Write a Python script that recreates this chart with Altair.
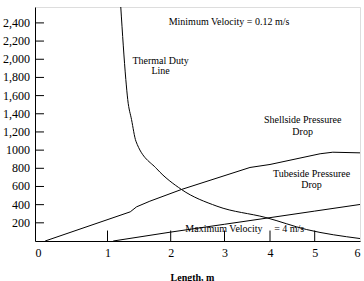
import altair as alt
import pandas as pd

# ---- data ----
thermal_x = [1.21, 1.29, 1.32, 1.38, 1.45, 1.78, 2.20, 2.86, 3.91, 4.82, 6.0]
thermal_y = [2575, 1777, 1557, 1337, 1098, 794, 567, 383, 258, 126, 27]

shell_x = [0.14, 1.36, 1.46, 1.67, 2.20, 3.56, 4.0, 5.12, 5.40, 6.0]
shell_y = [0, 321, 376, 438, 567, 809, 842, 960, 977, 970]

tube_x = [1.09, 2, 3, 4, 5, 6]
tube_y = [0, 98, 184, 257, 329, 402]

x_ticks = [0, 1, 2, 3, 4, 5, 6]
x_inner_ticks = [1, 2, 3, 4, 5]
y_ticks = [200, 400, 600, 800, 1000, 1200, 1400, 1600, 1800, 2000, 2200, 2400]
y_tick_labels = ["200", "400", "600", "800", "1000", "1,200", "1,400",
                 "1,600", "1,800", "2,000", "2,200", "2,400"]

labels = ["Minimum Velocity = 0.12 m/s", "Thermal Duty", "Line",
          "Shellside  Pressuree", "Drop", "Tubeside  Pressuree", "Drop",
          "Maximum Velocity", "= 4 m/s"]
label_x = [3.10, 1.84, 1.84, 4.73, 4.73, 4.93, 4.93, 2.99, 4.43]
label_y = [2411, 1985, 1868, 1336, 1201, 739, 614, 134, 134]

# ---- tables ----
thermal_df = pd.DataFrame({"x": thermal_x, "y": thermal_y, "i": range(len(thermal_x))})
shell_df = pd.DataFrame({"x": shell_x, "y": shell_y, "i": range(len(shell_x))})
tube_df = pd.DataFrame({"x": tube_x, "y": tube_y, "i": range(len(tube_x))})
text_df = pd.DataFrame({"x": label_x, "y": label_y, "t": labels})
xt_df = pd.DataFrame({"x": x_inner_ticks})
yt_df = pd.DataFrame({"y": y_ticks, "t": y_tick_labels})

FONT = "Liberation Serif"
W, H = 325, 234

xscale = alt.Scale(domain=x_ticks, range=[0, 72.5, 135.7, 189.5, 235, 279.7, 325])
yscale = alt.Scale(domain=[0, 2575], nice=False, zero=False)

xaxis = alt.Axis(values=x_ticks, ticks=False, grid=False, labelFont=FONT,
                 labelFontSize=12, labelColor="black", labelPadding=6,
                 labelOverlap=False, format="d",
                 domainColor="black", title="Length, m", titleFont=FONT,
                 titleFontSize=10, titleFontWeight="bold", titleColor="black",
                 titleBaseline="alphabetic", titleY=39, titleX=157,
                 titleAnchor="start", titleAlign="center")
yaxis = alt.Axis(values=y_ticks, ticks=False, grid=False, labels=False,
                 domainColor="black", title=None)

X = alt.X("x:Q", scale=xscale, axis=xaxis)
Y = alt.Y("y:Q", scale=yscale, axis=yaxis)

thermal = alt.Chart(thermal_df).mark_line(color="black", strokeWidth=1,
                                          interpolate="monotone").encode(
    x=X, y=Y, order="i:Q",
)
shell = alt.Chart(shell_df).mark_line(color="black", strokeWidth=1).encode(
    x=X, y=Y, order="i:Q",
)
tube = alt.Chart(tube_df).mark_line(color="black", strokeWidth=1).encode(
    x=X, y=Y, order="i:Q",
)

xt = alt.Chart(xt_df).mark_rule(color="black", strokeWidth=1).encode(
    x=X,
    y=alt.datum(0),
    y2=alt.datum(115),
)
yt = alt.Chart(yt_df).mark_rule(color="black", strokeWidth=1).encode(
    y=Y,
    x=alt.datum(0),
    x2=alt.datum(0.124),
)
ylab = alt.Chart(yt_df).mark_text(font=FONT, fontSize=12, color="black",
                                  align="right", baseline="middle", dx=-5).encode(
    y=Y,
    x=alt.datum(0),
    text="t:N",
)

texts = alt.Chart(text_df).mark_text(font=FONT, fontSize=10, color="black",
                                     align="center", baseline="middle").encode(
    x=X, y=Y, text="t:N",
)

chart = alt.layer(thermal, shell, tube, xt, yt, ylab, texts).properties(
    width=W, height=H,
    autosize=alt.AutoSizeParams(type="none"),
    padding={"left": 35, "top": 7, "right": 4, "bottom": 40},
).configure_view(stroke="black", strokeWidth=1).configure_axis(
    labelOverlap=False
).configure(background="white")

chart.save("out.html", embed_options={"renderer": "svg", "actions": False})
